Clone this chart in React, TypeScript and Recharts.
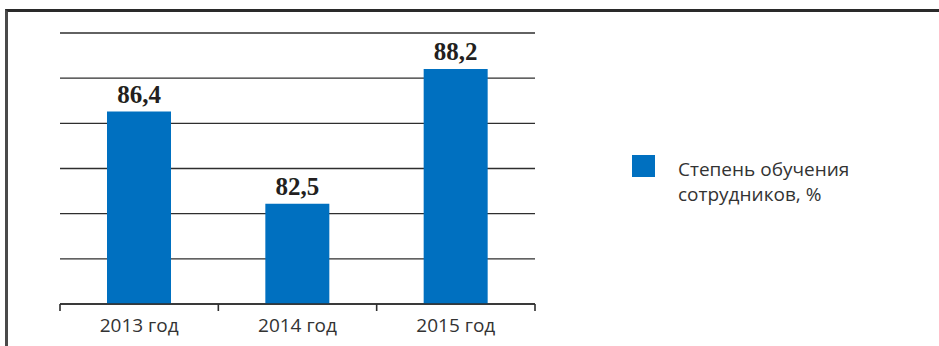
import React from 'react';
import { BarChart, Bar, XAxis, YAxis, CartesianGrid, LabelList } from 'recharts';

const categories = ['2013 год', '2014 год', '2015 год'];
const values = [86.4, 82.5, 88.2];
const seriesName = 'Степень обучения сотрудников, %';
const yMin = 78.25;
const yMax = 89.73;
const gridCount = 7;
const yTicks = Array.from({ length: gridCount }, (_, i) => yMin + (i * (yMax - yMin)) / (gridCount - 1));

const data = categories.map((c, i) => ({ category: c, value: values[i] }));

const LINE = '#2e2e2e';
const TEXT = '#333333';
const BLUE = '#0070C0';
const SANS = '"Open Sans", "Noto Sans", sans-serif';

const EmptyTick = () => <g />;

const CategoryTick = (props: any) => {
  const { x, y, payload } = props;
  const half = payload && payload.offset ? payload.offset : 79;
  const isLast = payload && payload.value === categories[categories.length - 1];
  return (
    <g>
      <line x1={x - half} y1={y} x2={x - half} y2={y + 7} stroke={LINE} strokeWidth={1.6} />
      {isLast && <line x1={x + half} y1={y} x2={x + half} y2={y + 7} stroke={LINE} strokeWidth={1.6} />}
      <text x={x} y={y + 28} textAnchor="middle" fontFamily={SANS} fontSize={19} fill={TEXT}>
        {payload.value}
      </text>
    </g>
  );
};

export default function App() {
  return (
    <div style={{ position: 'absolute', left: 0, top: 0, width: 939, height: 346, background: '#fff', overflow: 'hidden' }}>
      <div
        style={{
          position: 'absolute',
          left: 5,
          top: 9,
          right: -10,
          bottom: -10,
          borderTop: '3px solid #2a2a2a',
          borderLeft: '3px solid #4a4a4a',
        }}
      />
      <div style={{ position: 'absolute', left: 0, top: 0 }}>
        <BarChart
          width={939}
          height={346}
          data={data}
          margin={{ top: 33, right: 404, bottom: 12, left: 60 }}
        >
          <CartesianGrid horizontal vertical={false} stroke={LINE} strokeWidth={1.4} />
          <YAxis
            type="number"
            domain={[yMin, yMax]}
            ticks={yTicks}
            width={0}
            tick={<EmptyTick />}
            axisLine={false}
            tickLine={false}
          />
          <XAxis
            dataKey="category"
            height={30}
            axisLine={{ stroke: LINE, strokeWidth: 1.6 }}
            tickLine={false}
            tickSize={0}
            tickMargin={0}
            tick={<CategoryTick />}
            interval={0}
          />
          <Bar dataKey="value" name={seriesName} fill={BLUE} barSize={64} isAnimationActive={false}>
            <LabelList
              dataKey="value"
              position="top"
              offset={9}
              formatter={(v: any) => String(v).replace('.', ',')}
              style={{ fontFamily: '"Liberation Serif", "Times New Roman", serif', fontSize: 25, fontWeight: 'bold', fill: '#231f20' }}
            />
          </Bar>
        </BarChart>
      </div>
      <div
        style={{
          position: 'absolute',
          left: 632,
          top: 155,
          display: 'flex',
          alignItems: 'flex-start',
          fontFamily: SANS,
          fontSize: 19,
          color: TEXT,
          lineHeight: '25px',
        }}
      >
        <div style={{ width: 23, height: 22, background: BLUE, flex: '0 0 auto' }} />
        <div style={{ marginLeft: 23, width: 200, marginTop: 2 }}>{seriesName}</div>
      </div>
    </div>
  );
}
